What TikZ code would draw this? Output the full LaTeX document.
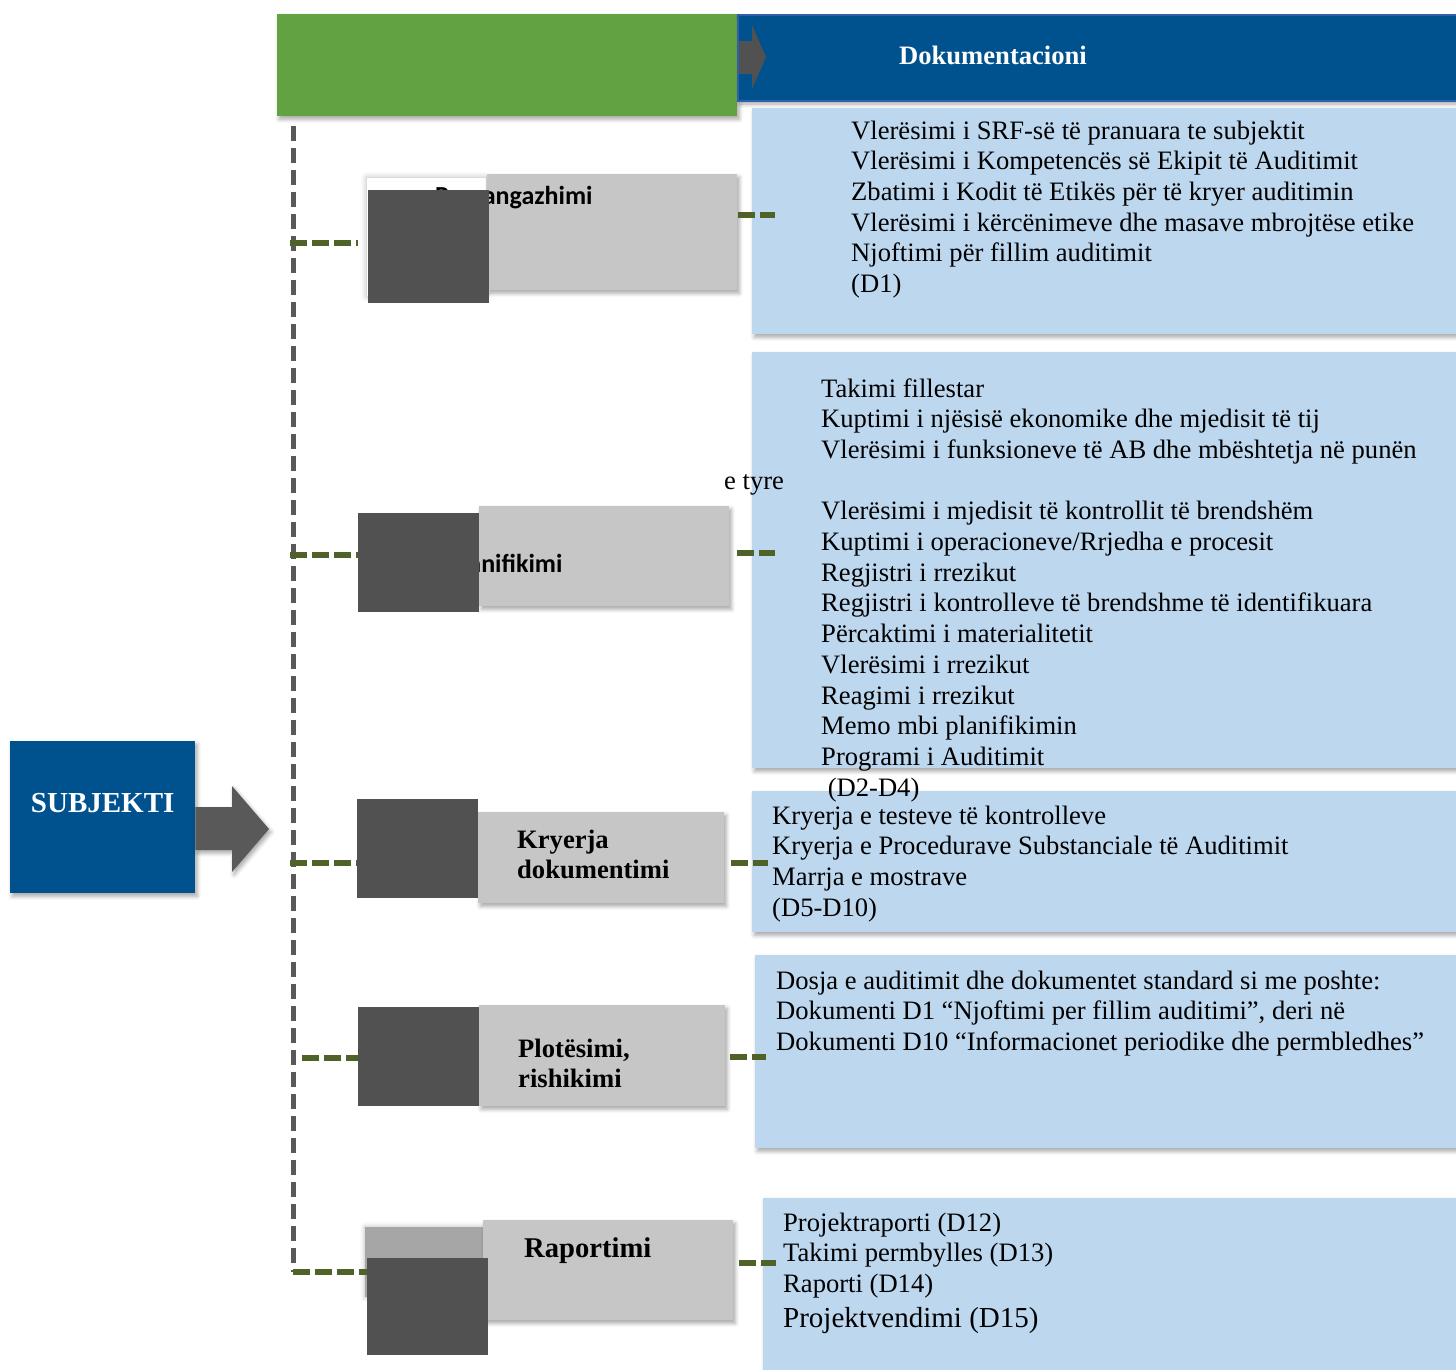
\documentclass[tikz,border=0pt]{standalone}
\usepackage{fontspec}
\setmainfont{Liberation Serif}
\newfontfamily\calib{Carlito}
\usetikzlibrary{shadows.blur}

\definecolor{hdrgreen}{RGB}{98,162,66}
\definecolor{hdrblue}{RGB}{0,82,143}
\definecolor{hdredge}{RGB}{47,94,170}
\definecolor{docblue}{RGB}{189,215,238}
\definecolor{stagegray}{RGB}{198,198,198}
\definecolor{ghostgray}{RGB}{166,166,166}
\definecolor{markgray}{RGB}{81,81,81}
\definecolor{arrowgray}{RGB}{89,89,89}
\definecolor{linkolive}{RGB}{79,98,40}

% left-aligned block of lines whose baseline is that of the first line
\newcommand\linesblock[1]{\vtop{\halign{##\hfil\cr#1\crcr}}}

\tikzset{
  softshadow/.style={blur shadow={shadow xshift=2pt, shadow yshift=-3pt,
      shadow blur radius=4pt, shadow opacity=35}},
  docbox/.style={fill=docblue, inner sep=0pt, anchor=north west, softshadow},
  stagebox/.style={fill=stagegray, inner sep=0pt, anchor=north west, softshadow},
  marker/.style={fill=markgray, inner sep=0pt, anchor=north west},
  doctext/.style={anchor=base west, inner sep=0pt,
      font=\fontsize{26.6}{30.7}\selectfont},
  stagelabel/.style={anchor=base west, inner sep=0pt,
      font=\bfseries\fontsize{26.6}{30}\selectfont},
  sanslabel/.style={anchor=base west, inner sep=0pt,
      font=\calib\bfseries\fontsize{26}{30}\selectfont},
  spine/.style={draw=arrowgray, line width=5pt, dash pattern=on 15pt off 7pt},
  link/.style={draw=linkolive, line width=5.5pt, dash pattern=on 16.5pt off 5.5pt},
}

\begin{document}
\begin{tikzpicture}[x=1pt, y=-1pt]
\useasboundingbox (0,0) rectangle (1456,1369);

% ---- header band ----
\node[fill=hdrgreen, inner sep=0pt, anchor=north west, minimum width=460pt,
      minimum height=102pt, softshadow] (phases) at (277,14) {};
\node[fill=hdrblue, draw=hdredge, line width=2pt, inner sep=0pt, anchor=north west,
      minimum width=735pt, minimum height=86pt, softshadow] (docs) at (737,14) {};
\node[text=white, font=\bfseries\fontsize{26.6}{30}\selectfont, inner sep=0pt]
      (docstitle) at (993,55) {Dokumentacioni};
\fill[markgray] (739,41) -- (752,41) -- (752,25) -- (766,57) -- (752,89)
      -- (752,74) -- (739,74) -- cycle;

% ---- timeline spine ----
\coordinate (spinetop) at (293,126);
\coordinate (spinefoot) at (293,1272);
\draw[spine] (spinetop) -- (spinefoot);

% ---- documentation boxes ----
\node[docbox, minimum width=714pt, minimum height=226pt] (b1) at (752,108) {};
\node[docbox, minimum width=714pt, minimum height=416pt] (b2) at (752,352) {};
\node[docbox, minimum width=714pt, minimum height=141pt] (b3) at (752,791) {};
\node[docbox, minimum width=711pt, minimum height=193pt] (b4) at (755,955) {};
\node[docbox, minimum width=703pt, minimum height=190pt] (b5) at (763,1198) {};

% soft shapes lying under the first and last markers
\fill[white, blur shadow={shadow xshift=0pt, shadow yshift=0pt,
      shadow blur radius=6pt, shadow opacity=30}] (367,178) rectangle (486,296);
\node[fill=ghostgray, inner sep=0pt, anchor=north west, minimum width=122pt,
      minimum height=70pt, blur shadow={shadow xshift=0pt, shadow yshift=0pt,
      shadow blur radius=5pt, shadow opacity=30}] (ghost5) at (365,1227) {};

% ---- stage boxes ----
\node[stagebox, minimum width=250pt, minimum height=116pt] (g1) at (487,174) {};
\node[stagebox, minimum width=250pt, minimum height=100pt] (g2) at (479,506) {};
\node[stagebox, minimum width=246pt, minimum height=91pt]  (g3) at (478,812) {};
\node[stagebox, minimum width=246pt, minimum height=101pt] (g4) at (479,1005) {};
\node[stagebox, minimum width=250pt, minimum height=100pt] (g5) at (483,1220) {};

\node[sanslabel] (l1) at (435,204) {Paraangazhimi};
\node[sanslabel] (l2) at (448,572) {Planifikimi};
\node[stagelabel] (l3) at (517,848) {\linesblock{Kryerja\cr dokumentimi}};
\node[stagelabel] (l4) at (518,1057) {\linesblock{Plotësimi,\cr rishikimi}};
\node[stagelabel, font=\bfseries\fontsize{28.6}{32}\selectfont] (l5) at (524,1257) {Raportimi};

% ---- dark markers ----
\node[marker, minimum width=121pt, minimum height=113pt] (d1) at (368,190) {};
\node[marker, minimum width=121pt, minimum height=99pt]  (d2) at (358,513) {};
\node[marker, minimum width=121pt, minimum height=99pt]  (d3) at (357,799) {};
\node[marker, minimum width=121pt, minimum height=99pt]  (d4) at (358,1007) {};
\node[marker, minimum width=121pt, minimum height=97pt]  (d5) at (367,1258) {};

% ---- branches from the spine ----
\coordinate (k1) at (290,243);
\coordinate (k2) at (290,555);
\coordinate (k3) at (290,863);
\coordinate (k4) at (302,1058);
\draw[link] (k1) -- ([xshift=-10pt]d1.west |- k1);
\draw[link] (k2) -- (d2.west |- k2);
\draw[link] (k3) -- (d3.west |- k3);
\draw[link] (k4) -- (d4.west |- k4);
\draw[link] (spinefoot) -- (d5.west |- spinefoot);

% ---- links to the documentation ----
\coordinate (r1) at (775,215);
\coordinate (r2) at (775,553);
\coordinate (r3) at (768,863);
\coordinate (r4) at (766,1057);
\coordinate (r5) at (776,1263);
\draw[link] ([xshift=1pt]g1.east |- r1) -- (r1);
\draw[link] ([xshift=8pt]g2.east |- r2) -- (r2);
\draw[link] ([xshift=7pt]g3.east |- r3) -- (r3);
\draw[link] ([xshift=5pt]g4.east |- r4) -- (r4);
\draw[link] ([xshift=6pt]g5.east |- r5) -- (r5);

% ---- documentation texts ----
\node[doctext] (t1) at (851,139) {\linesblock{%
  Vlerësimi i SRF-së të pranuara te subjektit\cr
  Vlerësimi i Kompetencës së Ekipit të Auditimit\cr
  Zbatimi i Kodit të Etikës për të kryer auditimin\cr
  Vlerësimi i kërcënimeve dhe masave mbrojtëse etike\cr
  Njoftimi për fillim auditimit\cr
  (D1)}};
\node[doctext] (t2) at (821,397) {\linesblock{%
  Takimi fillestar\cr
  Kuptimi i njësisë ekonomike dhe mjedisit të tij\cr
  Vlerësimi i funksioneve të AB dhe mbështetja në punën\cr
  \cr
  Vlerësimi i mjedisit të kontrollit të brendshëm\cr
  Kuptimi i operacioneve/Rrjedha e procesit\cr
  Regjistri i rrezikut\cr
  Regjistri i kontrolleve të brendshme të identifikuara\cr
  Përcaktimi i materialitetit\cr
  Vlerësimi i rrezikut\cr
  Reagimi i rrezikut\cr
  Memo mbi planifikimin\cr
  Programi i Auditimit\cr
  \hspace*{6.6pt}(D2-D4)}};
\node[doctext] (t2b) at (724,489) {e tyre};
\node[doctext] (t3) at (772,824) {\linesblock{%
  Kryerja e testeve të kontrolleve\cr
  Kryerja e Procedurave Substanciale të Auditimit\cr
  Marrja e mostrave\cr
  (D5-D10)}};
\node[doctext] (t4) at (776,989) {\linesblock{%
  Dosja e auditimit dhe dokumentet standard si me poshte:\cr
  Dokumenti D1 “Njoftimi per fillim auditimi”, deri në\cr
  Dokumenti D10 “Informacionet periodike dhe permbledhes”}};
\node[doctext] (t5) at (783,1231) {\linesblock{%
  Projektraporti (D12)\cr
  Takimi permbylles (D13)\cr
  Raporti (D14)\cr
  \noalign{\vskip 4pt}
  {\fontsize{29}{33}\selectfont Projektvendimi (D15)}}};

% ---- entity and its arrow ----
\node[fill=hdrblue, inner sep=0pt, anchor=north west, minimum width=185pt,
      minimum height=152pt, softshadow] (subj) at (10,741) {};
\node[text=white, font=\bfseries\fontsize{29}{33}\selectfont, inner sep=0pt]
      (subjlabel) at (subj.center |- 0,803) {SUBJEKTI};
\fill[arrowgray, softshadow] (subj.east |- 0,807) -- (232,807) -- (232,786) -- (269,829)
      -- (232,872) -- (232,850) -- (subj.east |- 0,850) -- cycle;
\end{tikzpicture}
\end{document}
